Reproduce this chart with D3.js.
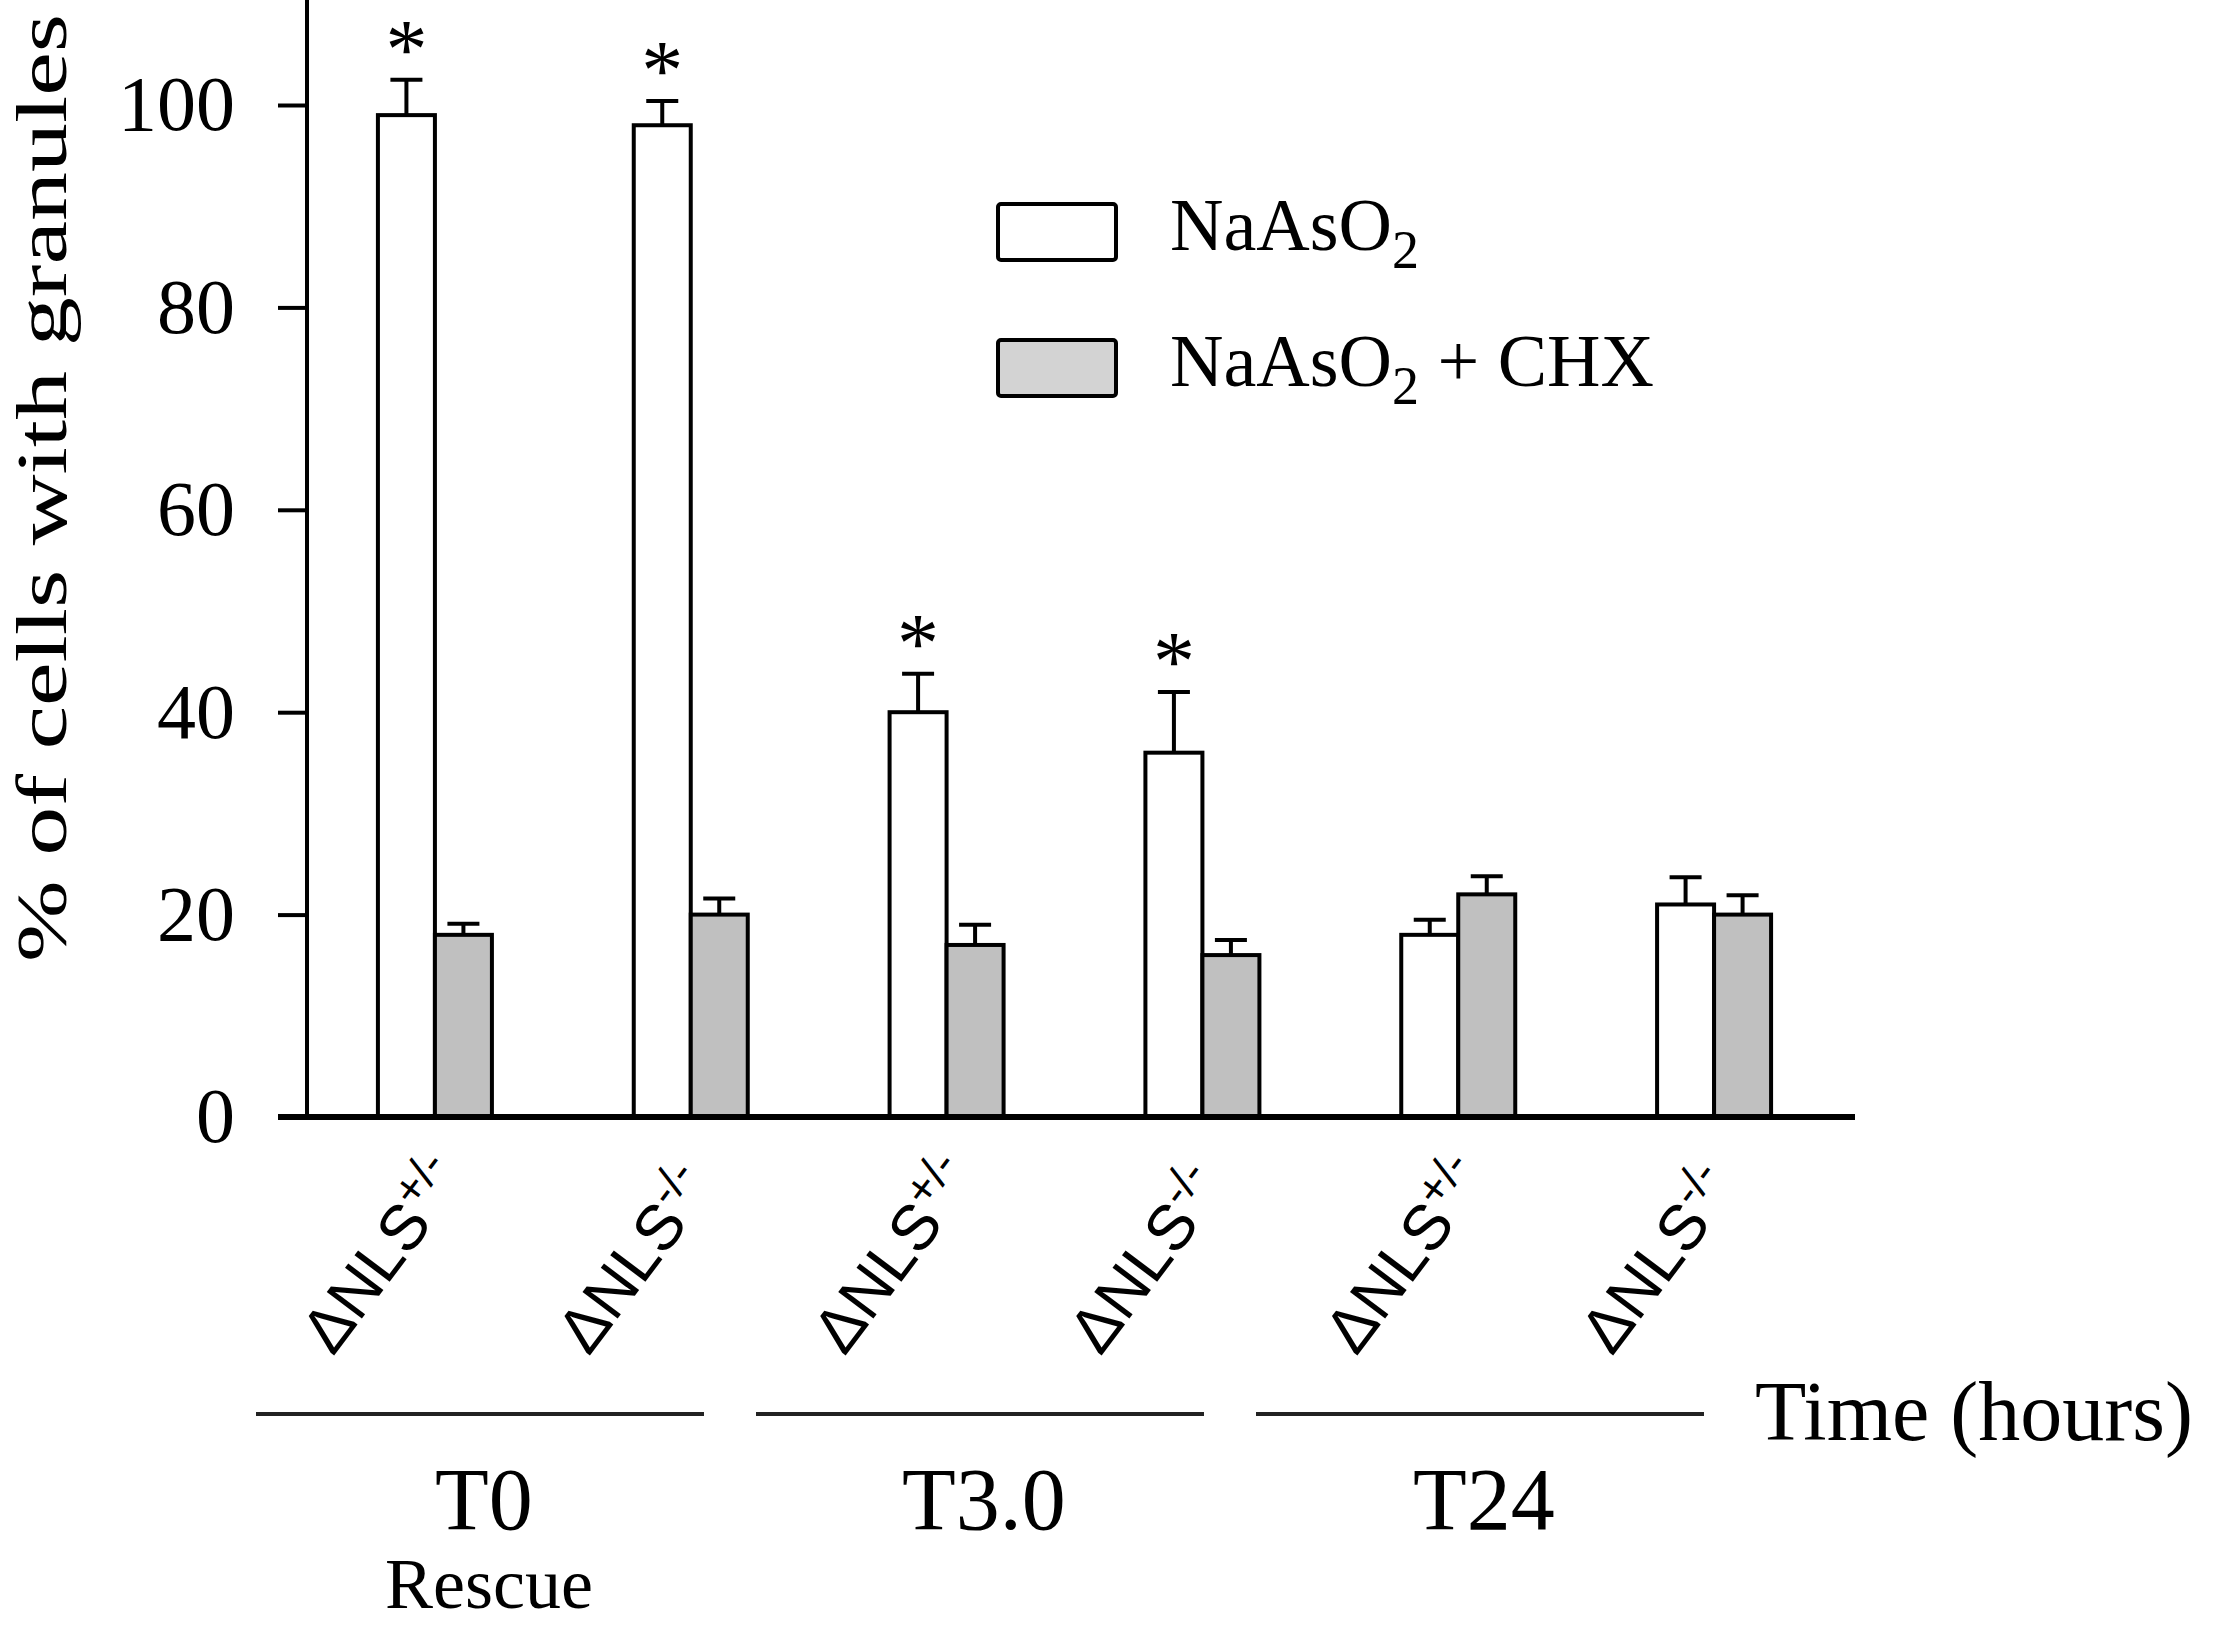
<!DOCTYPE html>
<html>
<head>
<meta charset="utf-8">
<script src="https://cdn.jsdelivr.net/npm/d3@7"></script>
<style>
  body { margin: 0; background: #fff; }
  text { fill: #000; }
</style>
</head>
<body>
<svg id="chart" width="2217" height="1629"></svg>
<script>
// --- Data ---
const groups = ["T0 +/-", "T0 -/-", "T3.0 +/-", "T3.0 -/-", "T24 +/-", "T24 -/-"];
const genotypeSup = ["+/-", "-/-", "+/-", "-/-", "+/-", "-/-"];
const series = ["NaAsO2", "NaAsO2 + CHX"];
const arsenite = [99, 98, 40, 36, 18, 21];
const arseniteErr = [3.5, 2.4, 3.8, 6.0, 1.5, 2.7];
const arseniteChx = [18, 20, 17, 16, 22, 20];
const arseniteChxErr = [1.1, 1.6, 2.0, 1.5, 1.8, 1.9];
const significant = [true, true, true, true, false, false];
const timePoints = ["T0", "T3.0", "T24"];
const yTicks = [0, 20, 40, 60, 80, 100];

const svg = d3.select("#chart");
const serif = "'Liberation Serif', 'Times New Roman', serif";
const sans = "'Liberation Sans', Arial, sans-serif";

// --- Layout ---
const plot = { left: 307, right: 1842, top: 105, bottom: 1117 };
const barW = 57;
const fills = { "NaAsO2": "#ffffff", "NaAsO2 + CHX": "#c0c0c0" };

// --- Scales ---
const x = d3.scaleBand().domain(groups).range([plot.left, plot.right]);
const sub = d3.scaleBand().domain(series).range([-barW, barW]);
const y = d3.scaleLinear().domain([0, 100]).range([plot.bottom, plot.top]);
const center = g => x(g) + x.bandwidth() / 2;
// time-group brackets sit a little left of the bar pairs
const tx = d3.scalePoint().domain(timePoints).range([480, 1480]);
const bracketW = 448;

const rows = [];
groups.forEach((g, i) => {
  rows.push({ g, i, s: series[0], v: arsenite[i], e: arseniteErr[i], star: significant[i] });
  rows.push({ g, i, s: series[1], v: arseniteChx[i], e: arseniteChxErr[i], star: false });
});

// --- Bars ---
svg.append("g").selectAll("rect")
  .data(rows)
  .join("rect")
  .attr("x", d => center(d.g) + sub(d.s))
  .attr("y", d => y(d.v))
  .attr("width", sub.bandwidth())
  .attr("height", d => y(0) - y(d.v))
  .attr("fill", d => fills[d.s])
  .attr("stroke", "#000")
  .attr("stroke-width", 4);

// --- Error bars (upper only) ---
const err = svg.append("g").attr("stroke", "#000").attr("stroke-width", 4);
err.selectAll(".stem")
  .data(rows)
  .join("line")
  .attr("class", "stem")
  .attr("x1", d => center(d.g) + sub(d.s) + sub.bandwidth() / 2)
  .attr("x2", d => center(d.g) + sub(d.s) + sub.bandwidth() / 2)
  .attr("y1", d => y(d.v))
  .attr("y2", d => y(d.v + d.e));
err.selectAll(".cap")
  .data(rows)
  .join("line")
  .attr("class", "cap")
  .attr("x1", d => center(d.g) + sub(d.s) + sub.bandwidth() / 2 - 16)
  .attr("x2", d => center(d.g) + sub(d.s) + sub.bandwidth() / 2 + 16)
  .attr("y1", d => y(d.v + d.e))
  .attr("y2", d => y(d.v + d.e));

// significance stars
svg.append("g").selectAll("text")
  .data(rows.filter(d => d.star))
  .join("text")
  .attr("x", d => center(d.g) + sub(d.s) + sub.bandwidth() / 2)
  .attr("y", d => y(d.v + d.e) - 2)
  .attr("text-anchor", "middle")
  .attr("font-family", serif)
  .attr("font-size", 84)
  .text("*");

// --- Y axis ---
const yAxis = svg.append("g")
  .attr("transform", `translate(${plot.left},0)`)
  .call(d3.axisLeft(y).tickValues(yTicks).tickSize(29).tickPadding(43).tickSizeOuter(0));
yAxis.select(".domain").remove();
yAxis.selectAll(".tick line").attr("stroke", "#000").attr("stroke-width", 4);
yAxis.selectAll(".tick text")
  .attr("font-family", serif)
  .attr("font-size", 78)
  .attr("fill", "#000");
svg.append("line")
  .attr("x1", plot.left).attr("x2", plot.left)
  .attr("y1", y(0)).attr("y2", y(110.5))
  .attr("stroke", "#000").attr("stroke-width", 4);

// x axis baseline
svg.append("line")
  .attr("x1", plot.left - 29).attr("x2", plot.right + 13)
  .attr("y1", y(0)).attr("y2", y(0))
  .attr("stroke", "#000").attr("stroke-width", 6);

// y axis title
svg.append("text")
  .attr("transform", "translate(66,488) rotate(-90)")
  .attr("text-anchor", "middle")
  .attr("font-family", serif)
  .attr("font-size", 72)
  .attr("textLength", 948)
  .attr("lengthAdjust", "spacingAndGlyphs")
  .text("% of cells with granules");

// --- Rotated genotype labels ---
const lab = svg.append("g").selectAll("text")
  .data(groups)
  .join("text")
  .attr("transform", g => `translate(${center(g) - 102},${y(0) + 240}) rotate(-53)`)
  .attr("font-family", sans)
  .attr("font-size", 64);
lab.append("tspan").text("ΔNLS");
lab.append("tspan")
  .attr("dy", -24)
  .attr("font-size", 46)
  .text((g, i) => genotypeSup[i]);

// --- Time groups ---
svg.append("g").selectAll("line")
  .data(timePoints)
  .join("line")
  .attr("x1", t => tx(t) - bracketW / 2).attr("x2", t => tx(t) + bracketW / 2)
  .attr("y1", 1414).attr("y2", 1414)
  .attr("stroke", "#222").attr("stroke-width", 4);
svg.append("g").selectAll("text")
  .data(timePoints)
  .join("text")
  .attr("x", t => tx(t) + 4)
  .attr("y", 1529)
  .attr("text-anchor", "middle")
  .attr("font-family", serif)
  .attr("font-size", 88)
  .text(t => t);

svg.append("text")
  .attr("x", tx(timePoints[0]) + 9)
  .attr("y", 1608)
  .attr("text-anchor", "middle")
  .attr("font-family", serif)
  .attr("font-size", 72)
  .text("Rescue");

svg.append("text")
  .attr("x", 1755)
  .attr("y", 1440)
  .attr("font-family", serif)
  .attr("font-size", 84)
  .text("Time (hours)");

// --- Legend ---
const legend = svg.append("g").selectAll("g")
  .data(series)
  .join("g")
  .attr("transform", (d, i) => `translate(998,${204 + i * 136})`);
legend.append("rect")
  .attr("width", 118).attr("height", 56).attr("rx", 3)
  .attr("fill", (d, i) => i === 0 ? "#fff" : "#d3d3d3")
  .attr("stroke", "#000").attr("stroke-width", 4);
const lt = legend.append("text")
  .attr("x", 172).attr("y", 46)
  .attr("font-family", serif)
  .attr("font-size", 74);
lt.append("tspan").text("NaAsO");
lt.append("tspan").attr("dy", 18).attr("font-size", 54).text("2");
lt.filter((d, i) => i === 1).append("tspan").attr("dy", -18).text(" + CHX");
</script>
</body>
</html>
